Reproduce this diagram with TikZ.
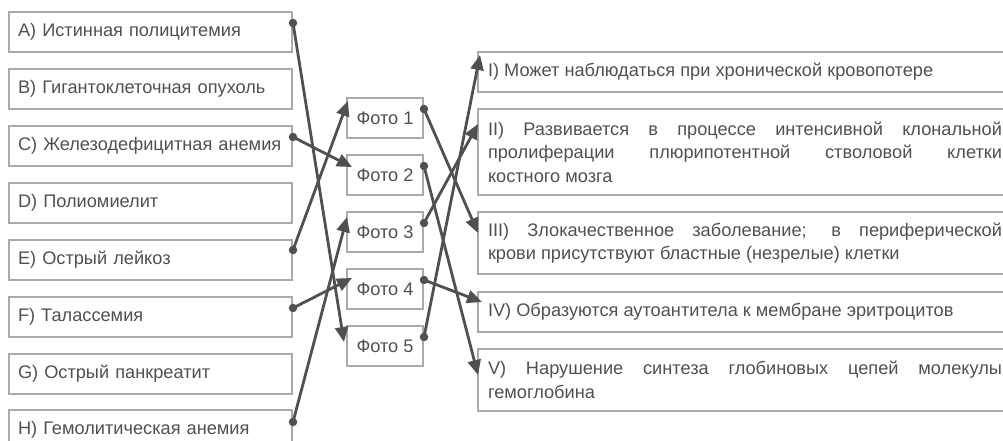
\documentclass[tikz,border=0pt]{standalone}
\usepackage{fontspec}
\setmainfont{Liberation Sans}
\usetikzlibrary{arrows.meta, positioning, calc}
\tolerance=10000
\hyphenpenalty=10000

\begin{document}
\begin{tikzpicture}[x=1pt, y=-1pt,
  leftbox/.style={rectangle, draw=boxgray, line width=2pt, anchor=north west, text width=265pt, inner xsep=9pt, minimum height=40pt, align=left, text=textgray, font=\fontsize{18.2}{23.5}\selectfont},
  photobox/.style={rectangle, draw=boxgray, line width=2pt, anchor=north west, minimum width=76pt, minimum height=40pt, inner sep=0pt, text=textgray, font=\fontsize{18.2}{23.5}\selectfont},
  rightbox/.style={rectangle, draw=boxgray, line width=2pt, anchor=north west, text width=514pt, inner xsep=10pt, inner ysep=0pt, align=justify, text=textgray, font=\fontsize{18.2}{23.5}\selectfont},
  link/.style={draw=linegray, line width=2.8pt, -{Triangle[length=15pt, width=13pt]}},
  dot/.style={circle, fill=linegray, inner sep=0pt, minimum size=8.5pt}]
  % Define colors
  \definecolor{boxgray}{RGB}{170,170,170}
  \definecolor{textgray}{RGB}{80,80,80}
  \definecolor{linegray}{RGB}{80,80,80}

  \useasboundingbox (0,0) rectangle (1003,441);

  % Left column
  \node[leftbox] (A) at (8,11) {A) Истинная полицитемия};
  \node[leftbox] (B) at (8,68) {B) Гигантоклеточная опухоль};
  \node[leftbox] (C) at (8,125) {C) Железодефицитная анемия};
  \node[leftbox] (D) at (8,182) {D) Полиомиелит};
  \node[leftbox] (E) at (8,239) {E) Острый лейкоз};
  \node[leftbox] (F) at (8,296) {F) Талассемия};
  \node[leftbox] (G) at (8,353) {G) Острый панкреатит};
  \node[leftbox] (H) at (8,409) {H) Гемолитическая анемия};

  % Photo column
  \node[photobox] (ph1) at (346,97) {Фото 1};
  \node[photobox] (ph2) at (346,154) {Фото 2};
  \node[photobox] (ph3) at (346,211) {Фото 3};
  \node[photobox] (ph4) at (346,268) {Фото 4};
  \node[photobox] (ph5) at (346,325) {Фото 5};

  % Right column
  \node[rightbox, minimum height=40pt] (r1) at (477,51) {I) Может наблюдаться при хронической кровопотере};
  \node[rightbox, minimum height=86pt] (r2) at (477,108) {II) Развивается в процессе интенсивной клональной\linebreak пролиферации плюрипотентной стволовой клетки\linebreak костного мозга};
  \node[rightbox, minimum height=62pt] (r3) at (477,211) {III) Злокачественное заболевание; в периферической\linebreak крови присутствуют бластные (незрелые) клетки};
  \node[rightbox, minimum height=40pt] (r4) at (477,291) {IV) Образуются аутоантитела к мембране эритроцитов};
  \node[rightbox, minimum height=62pt] (r5) at (477,348) {V) Нарушение синтеза глобиновых цепей молекулы\linebreak гемоглобина};

  % Start dots
  \node[dot] (dA) at ($(A.north east)+(0,12)$) {};
  \node[dot] (dC) at ($(C.north east)+(0,12)$) {};
  \node[dot] (dE) at ($(E.north east)+(0,11)$) {};
  \node[dot] (dF) at ($(F.north east)+(0,12)$) {};
  \node[dot] (dH) at ($(H.north east)+(0,13)$) {};
  \node[dot] (d1) at ($(ph1.north east)+(0,12)$) {};
  \node[dot] (d2) at ($(ph2.north east)+(0,12)$) {};
  \node[dot] (d3) at ($(ph3.north east)+(0,12)$) {};
  \node[dot] (d4) at ($(ph4.north east)+(0,12)$) {};
  \node[dot] (d5) at ($(ph5.north east)+(0,12)$) {};

  % Arrow ends
  \coordinate (in1) at ($(ph1.north west)+(2,4)$);
  \coordinate (in2) at ($(ph2.north west)+(6,13)$);
  \coordinate (in3) at ($(ph3.north west)+(1,6)$);
  \coordinate (in4) at ($(ph4.north west)+(6,10)$);
  \coordinate (in5) at ($(ph5.north west)+(-2,17)$);
  \coordinate (inI) at ($(r1.north west)+(3,4)$);
  \coordinate (inII) at ($(r2.north west)+(1,16)$);
  \coordinate (inIII) at ($(r3.north west)+(1,22)$);
  \coordinate (inIV) at ($(r4.north west)+(5,11)$);
  \coordinate (inV) at ($(r5.north west)+(1,27)$);

  % Arrows from diseases to photos
  \draw[link] (dA.center) -- (in5);
  \draw[link] (dC.center) -- (in2);
  \draw[link] (dE.center) -- (in1);
  \draw[link] (dF.center) -- (in4);
  \draw[link] (dH.center) -- (in3);

  % Arrows from photos to descriptions
  \draw[link] (d1.center) -- (inIII);
  \draw[link] (d2.center) -- (inV);
  \draw[link] (d3.center) -- (inII);
  \draw[link] (d4.center) -- (inIV);
  \draw[link] (d5.center) -- (inI);

\end{tikzpicture}
\end{document}
